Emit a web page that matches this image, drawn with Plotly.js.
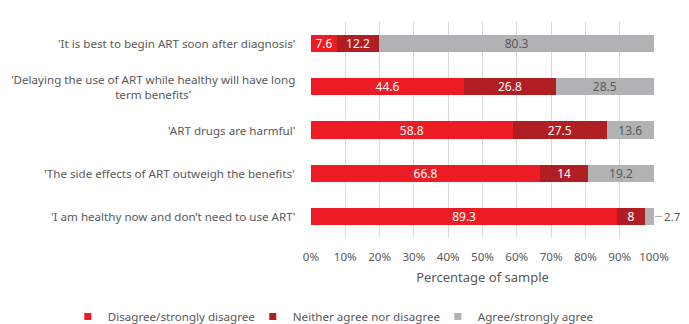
<!DOCTYPE html>
<html><head><meta charset="utf-8">
<script src="https://cdn.plot.ly/plotly-3.0.1.min.js"></script>
<style>body{margin:0;background:#fff}#c{width:689px;height:324px}</style>
</head><body><div id="c"></div>
<script>
const categories = [
  "'It is best to begin ART soon after diagnosis'",
  "'Delaying the use of ART while healthy will have long<br>term benefits'",
  "'ART drugs are harmful'",
  "'The side effects of ART outweigh the benefits'",
  "'I am healthy now and don’t need to use ART'"
];
const seriesNames = ["Disagree/strongly disagree", "Neither agree nor disagree", "Agree/strongly agree"];
const disagree = [7.6, 44.6, 58.8, 66.8, 89.3];
const neither  = [12.2, 26.8, 27.5, 14, 8];
const agree    = [80.3, 28.5, 13.6, 19.2, 2.7];
const tickVals = [0,10,20,30,40,50,60,70,80,90,100];
const tickText = ["0%","10%","20%","30%","40%","50%","60%","70%","80%","90%","100%"];

const colors = ["#ED1C24", "#B01E24", "#B2B2B4"];
const textColors = ["#ffffff", "#ffffff", "#595959"];
const FONT = "Noto Sans, sans-serif";
const all = [disagree, neither, agree];

const traces = all.map((vals, i) => ({
  type: "bar", orientation: "h",
  name: seriesNames[i],
  x: vals, y: categories,
  width: 0.4,
  marker: {color: colors[i], line: {width: 0}},
  text: vals.map(v => v < 5 ? "" : String(v)),
  textposition: "inside", insidetextanchor: "middle",
  constraintext: "none", textangle: 0,
  textfont: {color: textColors[i], size: 12, family: FONT},
  hoverinfo: "none", showlegend: false
}));
// legend entries with small square keys
seriesNames.forEach((n, i) => traces.push({
  type: "scatter", mode: "markers", name: n, x: [null], y: [null],
  marker: {symbol: "square", size: 7, color: colors[i]},
  hoverinfo: "none", showlegend: true
}));

const annotations = categories.map(c => ({
  xref: "paper", yref: "y", x: -0.04, y: c,
  xanchor: "right", yanchor: "middle", align: "center",
  text: c, showarrow: false,
  font: {family: FONT, size: 11.6, color: "#595959"}
}));
// small outside label
categories.forEach((c, k) => {
  if (agree[k] < 5) {
    annotations.push({
      xref: "x", yref: "y", x: disagree[k] + neither[k] + agree[k], y: c,
      text: String(agree[k]), showarrow: true, arrowhead: 0, arrowwidth: 1,
      arrowcolor: "#A6A6A6", ax: 8, ay: 0, xanchor: "left", standoff: 1,
      font: {family: FONT, size: 11.6, color: "#595959"}
    });
  }
});

const layout = {
  width: 689, height: 324,
  margin: {l: 311, r: 35, t: 22, b: 86, autoexpand: false},
  barmode: "stack",
  paper_bgcolor: "#fff", plot_bgcolor: "#fff",
  font: {family: FONT, color: "#595959", size: 12},
  xaxis: {
    range: [0, 100], tickvals: tickVals, ticktext: tickText,
    showgrid: true, gridcolor: "#D9D9D9", gridwidth: 1,
    zeroline: false, showline: false, ticks: "", ticklabelstandoff: 10,
    tickfont: {size: 11.6, color: "#595959", family: FONT},
    title: {text: "Percentage of sample", font: {size: 13, color: "#595959", family: FONT}, standoff: 10},
    fixedrange: true
  },
  yaxis: {
    autorange: "reversed", showticklabels: false, showgrid: false,
    zeroline: false, showline: false, ticks: "", fixedrange: true
  },
  showlegend: true,
  legend: {
    orientation: "h", x: -0.709, xanchor: "left", y: -0.363, yanchor: "middle",
    font: {size: 11.6, color: "#595959", family: FONT},
    entrywidth: 140, entrywidthmode: "pixels", traceorder: "normal"
  },
  annotations: annotations
};

Plotly.newPlot("c", traces, layout, {displayModeBar: false, staticPlot: true});
</script></body></html>
